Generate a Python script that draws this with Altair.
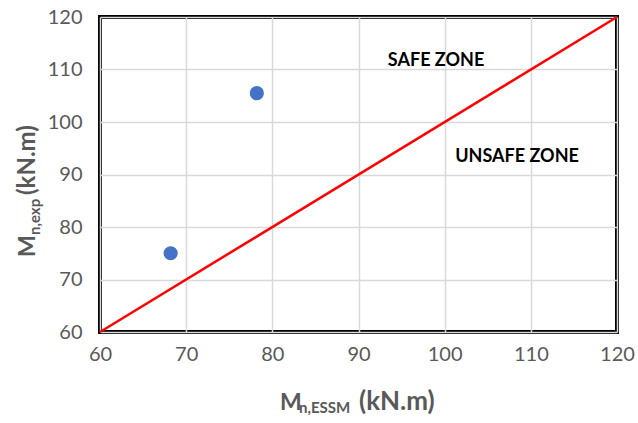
import altair as alt
import pandas as pd

# data
essm = [68.2, 78.2]
exp_vals = [75.0, 105.5]
line_x = [60, 120]
line_y = [60, 120]
zone_labels = ["SAFE ZONE", "UNSAFE ZONE"]
zone_x = [99.0, 108.4]
zone_y = [111.6, 93.3]
tick_vals = [60, 70, 80, 90, 100, 110, 120]

pts = pd.DataFrame({"essm": essm, "exp": exp_vals})
ln = pd.DataFrame({"x": line_x, "y": line_y})
zones = pd.DataFrame({"label": zone_labels, "x": zone_x, "y": zone_y})

xs = alt.Scale(domain=[60, 120], nice=False, zero=False)
ys = alt.Scale(domain=[60, 120], nice=False, zero=False)
x_axis = alt.Axis(values=tick_vals, title=None, labelPadding=12, labelFlush=False)
y_axis = alt.Axis(values=tick_vals, title=None, labelPadding=18, labelFlush=False)

FONT = "Lato"
GREY = "#595959"

points = alt.Chart(pts).mark_circle(size=200, color="#4472C4", opacity=1).encode(
    x=alt.X("essm:Q", scale=xs, axis=x_axis),
    y=alt.Y("exp:Q", scale=ys, axis=y_axis),
)

line = alt.Chart(ln).mark_line(color="#FF0000", strokeWidth=2.5, clip=False).encode(
    x=alt.X("x:Q", scale=xs, axis=x_axis),
    y=alt.Y("y:Q", scale=ys, axis=y_axis),
)

zone_text = alt.Chart(zones).mark_text(
    font=FONT, fontSize=18, fontWeight="bold", color="black", align="center", baseline="middle"
).encode(
    x=alt.X("x:Q", scale=xs, axis=x_axis),
    y=alt.Y("y:Q", scale=ys, axis=y_axis),
    text="label:N",
)

def txt(s, x, y, size, angle=0, align="left"):
    kw = dict(font=FONT, fontSize=size, fontWeight="bold", color=GREY,
              align=align, baseline="alphabetic")
    if angle:
        kw["angle"] = angle
    return alt.Chart(pd.DataFrame({"t": [s]})).mark_text(**kw).encode(
        x=alt.value(x), y=alt.value(y), text="t:N"
    )

title_main = "M"
x_sub = "n,ESSM"
y_sub = "n,exp"
unit = "(kN.m)"

titles = [
    txt(title_main, 180, 393, 23),
    txt(x_sub, 199, 396, 15),
    txt(unit, 259, 393, 26),
    txt(title_main, -65, 240, 23, angle=270),
    txt(y_sub, -60, 218, 15, angle=270),
    txt(unit, -65, 178, 24, angle=270),
]

chart = alt.layer(line, points, zone_text, *titles).properties(
    width=517, height=315,
    autosize=alt.AutoSizeParams(type="none"),
    padding={"left": 100, "top": 17, "right": 21, "bottom": 91},
).configure_view(
    stroke="black", strokeWidth=4
).configure_axis(
    labelFont=FONT, labelFontSize=20, labelColor=GREY,
    ticks=False, domain=False, gridColor="#D9D9D9", gridWidth=1.5,
)

chart.save("out.html", embed_options={"renderer": "svg", "actions": False})
